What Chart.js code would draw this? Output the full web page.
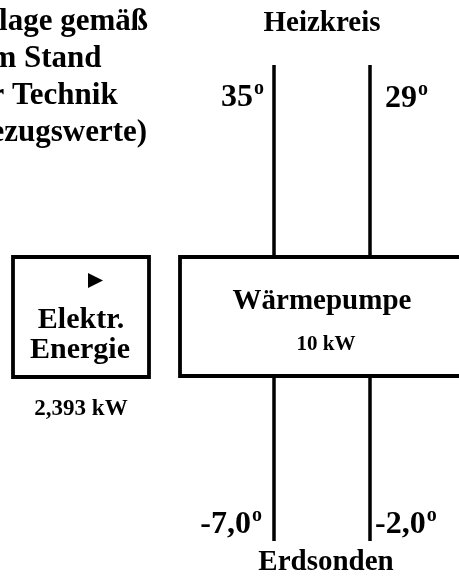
<!DOCTYPE html>
<html>
<head>
<meta charset="utf-8">
<script src="https://cdn.jsdelivr.net/npm/chart.js@4/dist/chart.umd.min.js"></script>
<style>
  html, body { margin: 0; padding: 0; background: #fff; }
  #wrap { width: 459px; height: 579px; }
</style>
</head>
<body>
<div id="wrap"><canvas id="diagram" width="459" height="579"></canvas></div>
<script>
// Values
const circuitNames = ["Heizkreis", "Erdsonden"];
const heatingTemps = [35, 29]; // Vorlauf / Rücklauf (°C)
const groundTemps = [-7.0, -2.0]; // Erdsonden (°C)
const pumpLabel = "Wärmepumpe";
const pumpPower = [10]; // kW
const energyLabel = ["Elektr.", "Energie"];
const electricPower = [2.393]; // kW
const noteLines = ["Anlage gemäß", "dem Stand", "der Technik", "(Bezugswerte)"];

// Layout of the scheme, in diagram units (the scales run 0..459 / 0..579)
const layout = {
  pipeX: [274, 370],
  topPipe: [65, 257],
  bottomPipe: [376, 541],
  pumpBox: { left: 180, right: 468, top: 257, bottom: 376 },
  energyBox: { left: 13, right: 149, top: 257, bottom: 377 },
};

const FONT = '"Liberation Serif", "Times New Roman", serif';

const fmt = (v, digits) => v.toFixed(digits).replace(".", ",");

const pipe = (x, y0, y1) => ({
  data: [{ x, y: y0 }, { x, y: y1 }],
  showLine: true,
  borderColor: "#000",
  borderWidth: 3.5,
  pointRadius: 0,
  borderCapStyle: "butt",
});

const box = (b, width) => ({
  data: [
    { x: b.left, y: b.top },
    { x: b.right, y: b.top },
    { x: b.right, y: b.bottom },
    { x: b.left, y: b.bottom },
    { x: b.left, y: b.top },
  ],
  showLine: true,
  borderColor: "#000",
  borderWidth: width,
  pointRadius: 0,
  borderJoinStyle: "miter",
  borderCapStyle: "square",
});

const datasets = [
  ...layout.pipeX.map((x) => pipe(x, layout.topPipe[0], layout.topPipe[1])),
  ...layout.pipeX.map((x) => pipe(x, layout.bottomPipe[0], layout.bottomPipe[1])),
  box(layout.pumpBox, 3.8),
  box(layout.energyBox, 3.8),
];

// temperature like "35º" with a raised small o
const drawTemp = (ctx, text, x, y, size, align) => {
  ctx.font = `bold ${size}px ${FONT}`;
  const w1 = ctx.measureText(text).width;
  const small = Math.round(size * 0.64);
  ctx.font = `bold ${small}px ${FONT}`;
  const w2 = ctx.measureText("o").width;
  const total = w1 + w2 + 1;
  const x0 = align === "right" ? x - total : x;
  ctx.textAlign = "left";
  ctx.font = `bold ${size}px ${FONT}`;
  ctx.fillText(text, x0, y);
  ctx.font = `bold ${small}px ${FONT}`;
  ctx.fillText("o", x0 + w1 + 1, y - size * 0.36);
};

const labelsPlugin = {
  id: "schemeLabels",
  afterDraw(chart) {
    const { ctx, scales } = chart;
    const px = (v) => scales.x.getPixelForValue(v);
    const py = (v) => scales.y.getPixelForValue(v);
    ctx.save();
    ctx.fillStyle = "#000";
    ctx.textBaseline = "alphabetic";

    // note text at the left edge (cut off by the page)
    ctx.font = `bold 31px ${FONT}`;
    ctx.textAlign = "left";
    const noteX = 148 - ctx.measureText(noteLines[0]).width;
    noteLines.forEach((line, i) => ctx.fillText(line, px(noteX), py(30 + i * 37)));

    // circuit names
    ctx.textAlign = "center";
    ctx.font = `bold 29px ${FONT}`;
    ctx.fillText(circuitNames[0], px(322), py(31));
    ctx.fillText(circuitNames[1], px(326), py(570));

    // temperatures
    drawTemp(ctx, String(heatingTemps[0]), px(264), py(106), 32, "right");
    drawTemp(ctx, String(heatingTemps[1]), px(385), py(107), 32, "left");
    drawTemp(ctx, fmt(groundTemps[0], 1), px(262), py(533), 32, "right");
    drawTemp(ctx, fmt(groundTemps[1], 1), px(375), py(533), 32, "left");

    // heat pump box
    ctx.textAlign = "center";
    ctx.font = `bold 29px ${FONT}`;
    ctx.fillText(pumpLabel, px(322), py(309));
    ctx.font = `bold 21px ${FONT}`;
    ctx.fillText(`${pumpPower[0]} kW`, px(326), py(350));

    // electric energy box
    ctx.beginPath();
    ctx.moveTo(px(88), py(273));
    ctx.lineTo(px(103), py(280.5));
    ctx.lineTo(px(88), py(288));
    ctx.closePath();
    ctx.fill();
    ctx.font = `bold 30px ${FONT}`;
    ctx.fillText(energyLabel[0], px(81), py(328));
    ctx.fillText(energyLabel[1], px(80), py(358));
    ctx.font = `bold 23px ${FONT}`;
    ctx.fillText(`${fmt(electricPower[0], 3)} kW`, px(81), py(415));

    ctx.restore();
  },
};

new Chart(document.getElementById("diagram"), {
  type: "scatter",
  data: { datasets },
  options: {
    responsive: false,
    animation: false,
    layout: { padding: 0 },
    plugins: { legend: { display: false }, tooltip: { enabled: false } },
    scales: {
      x: { type: "linear", min: 0, max: 459, display: false },
      y: { type: "linear", min: 0, max: 579, reverse: true, display: false },
    },
  },
  plugins: [labelsPlugin],
});
</script>
</body>
</html>
